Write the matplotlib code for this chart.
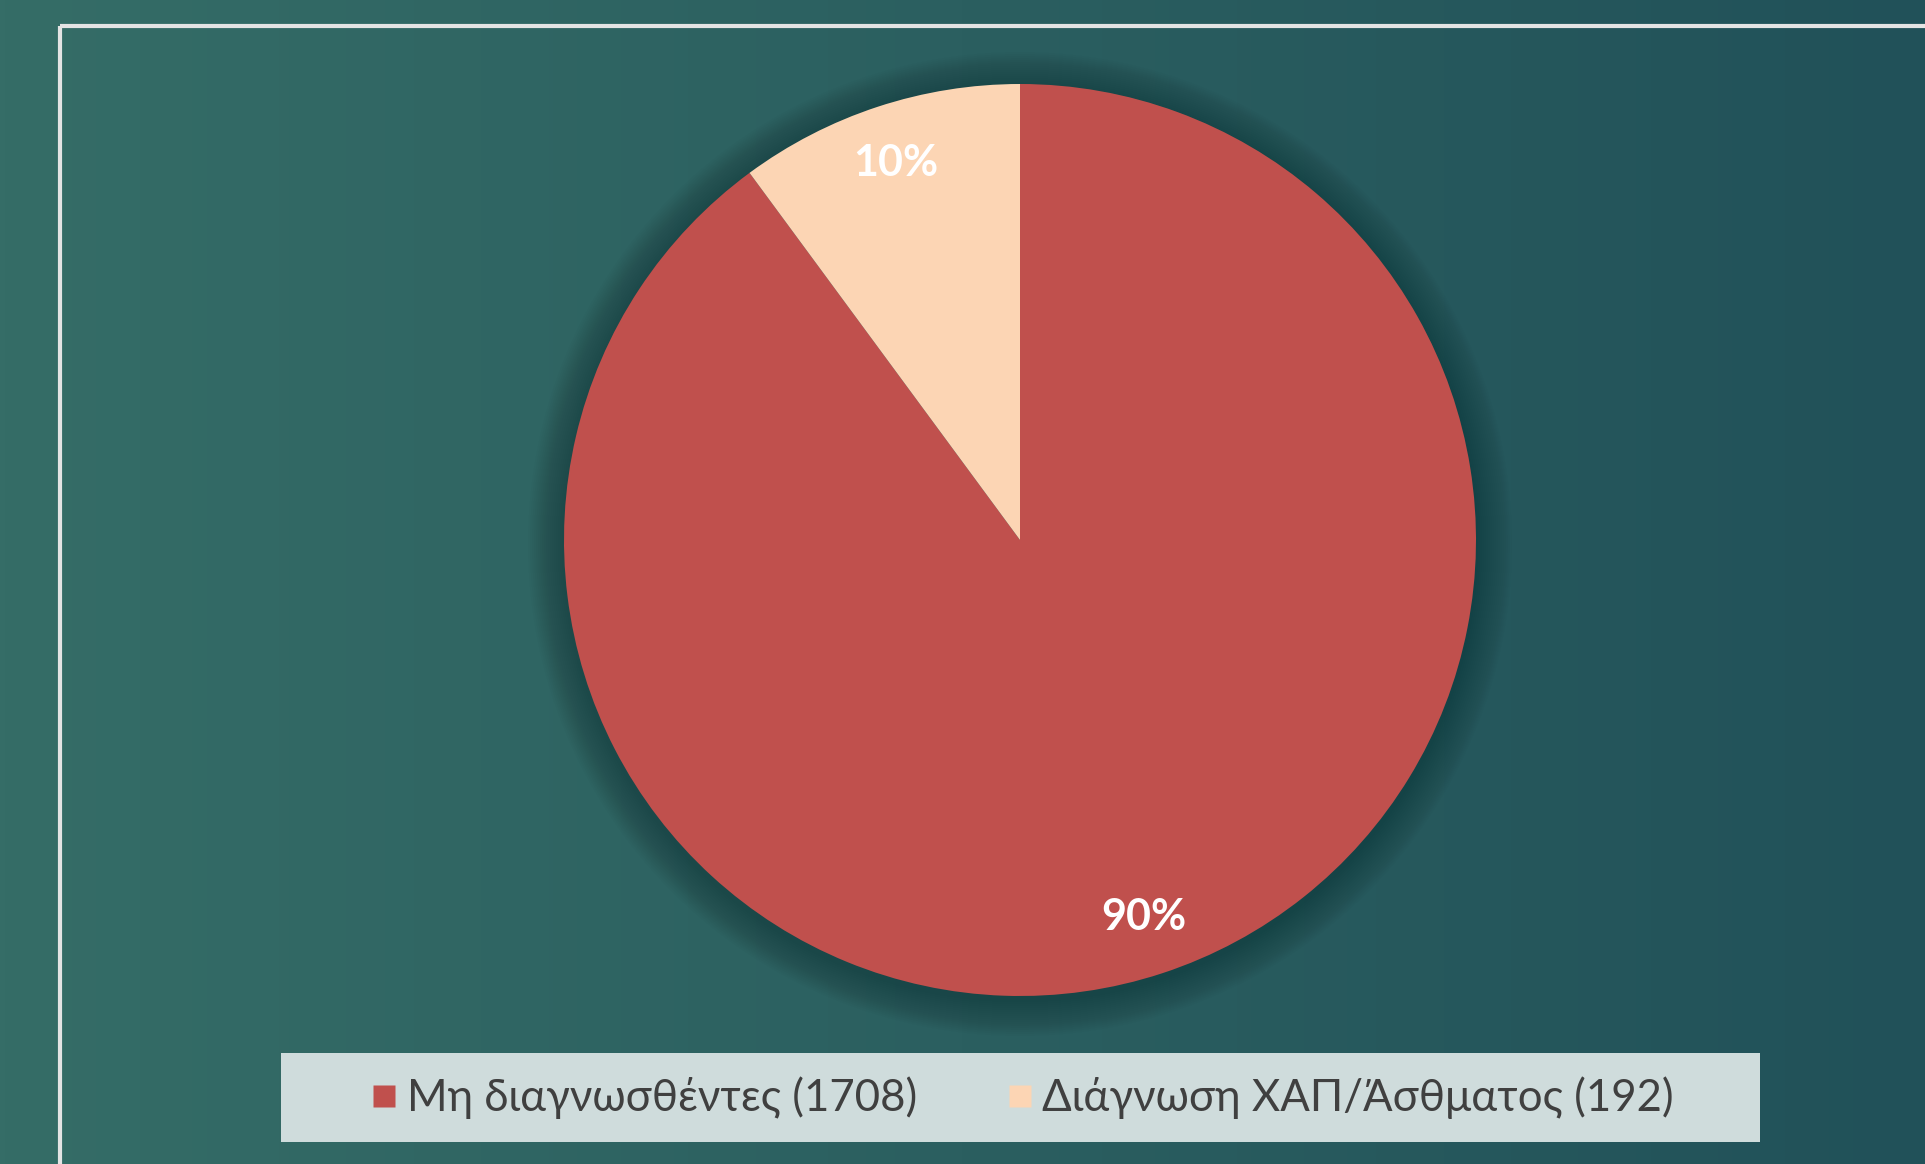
import numpy as np
import matplotlib
matplotlib.use("Agg")
import matplotlib.pyplot as plt
from matplotlib.lines import Line2D
from matplotlib.patches import Rectangle, Circle

categories = ["Μη διαγνωσθέντες (1708)", "Διάγνωση ΧΑΠ/Άσθματος (192)"]
values = [1708, 192]
colors = ["#c0504d", "#fcd5b4"]

W, H, DPI = 1925, 1164, 100
fig = plt.figure(figsize=(W / DPI, H / DPI), dpi=DPI)

# background gradient
bg = fig.add_axes([0, 0, 1, 1])
bg.set_xlim(0, W)
bg.set_ylim(H, 0)
bg.axis("off")
x = np.linspace(0, 1, 400)
left = np.array([0x35, 0x6d, 0x67]) / 255
right = np.array([0x21, 0x51, 0x59]) / 255
grad = left[None, :] * (1 - x[:, None]) + right[None, :] * x[:, None]
img = np.tile(grad[None, :, :], (50, 1, 1))
bg.imshow(img, extent=[0, W, H, 0], aspect="auto", zorder=0)

# frame lines
bg.plot([60, 60], [26, H], color="#e4e4e4", lw=3, solid_capstyle="butt", zorder=2)
bg.plot([60, W], [26, 26], color="#e4e4e4", lw=3, solid_capstyle="butt", zorder=2)

# pie shadow
cx, cy, r = 1020, 540, 456
for i in range(18):
    bg.add_patch(Circle((cx, cy + 4), r + 36 - i * 2, color="#0d2e30", alpha=0.028, lw=0, zorder=1))

# legend box
bg.add_patch(Rectangle((281, 1053), 1479, 89, facecolor="#cfdcdc", edgecolor="none", zorder=2))

# pie
ax = fig.add_axes([(cx - r) / W, (H - cy - r) / H, 2 * r / W, 2 * r / H])
wedges, texts, autotexts = ax.pie(
    values, colors=colors, startangle=90, counterclock=False,
    autopct=lambda p: f"{p:.0f}%", pctdistance=0.87,
    wedgeprops=dict(linewidth=0),
    textprops=dict(color="white", fontsize=31, fontweight="bold", family=["Lato", "DejaVu Sans"]),
)
ax.set_xlim(-1, 1)
ax.set_ylim(-1, 1)
ax.set_aspect("equal")
ax.axis("off")

handles = [Line2D([], [], marker="s", linestyle="none", markersize=16,
                  markerfacecolor=c, markeredgecolor="none") for c in colors]
leg = fig.legend(handles, categories, loc="center",
                 bbox_to_anchor=((281 + 1479 / 2) / W, (H - 1097.5) / H),
                 ncol=2, frameon=False, handletextpad=0.125, columnspacing=1.93,
                 handlelength=0.8,
                 prop=dict(family=["Lato", "DejaVu Sans"], size=31.5))
for t in leg.get_texts():
    t.set_color("#404040")

fig.savefig("out.png", dpi=DPI)
